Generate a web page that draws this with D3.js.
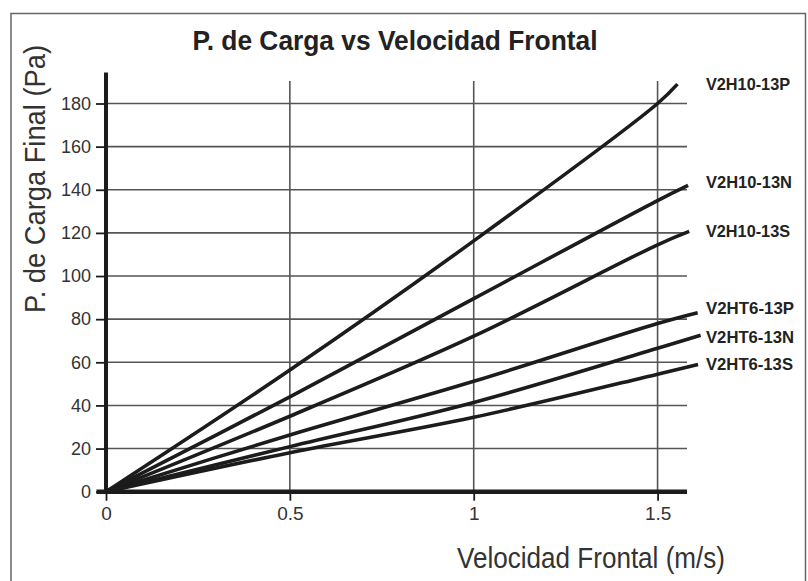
<!DOCTYPE html>
<html><head><meta charset="utf-8">
<script src="https://cdn.jsdelivr.net/npm/d3@7"></script>
<style>
html,body{margin:0;padding:0;background:#fff;}
svg{display:block;}
text{font-family:"Liberation Sans Narrow","Arial Narrow","Liberation Sans",Arial,sans-serif;}
</style></head>
<body>
<svg id="chart" width="808" height="581"></svg>
<script>
// ---- data ----
const xTicks = [0, 0.5, 1, 1.5];
const xTickLabels = ["0", "0.5", "1", "1.5"];
const yTicks = [0, 20, 40, 60, 80, 100, 120, 140, 160, 180];
const seriesNames = ["V2H10-13P", "V2H10-13N", "V2H10-13S", "V2HT6-13P", "V2HT6-13N", "V2HT6-13S"];
const velocity = {
  "V2H10-13P": [0, 0.5, 1, 1.5, 1.554],
  "V2H10-13N": [0, 0.5, 1, 1.5, 1.583],
  "V2H10-13S": [0, 0.5, 1, 1.5, 1.586],
  "V2HT6-13P": [0, 0.5, 1, 1.5, 1.609],
  "V2HT6-13N": [0, 0.5, 1, 1.5, 1.617],
  "V2HT6-13S": [0, 0.5, 1, 1.5, 1.610]
};
const pressure = {
  "V2H10-13P": [0, 56.4, 116.3, 180, 189.0],
  "V2H10-13N": [0, 44.0, 89.5, 135, 142],
  "V2H10-13S": [0, 35.0, 72.1, 114.5, 120.7],
  "V2HT6-13P": [0, 26.3, 51.2, 78, 83],
  "V2HT6-13N": [0, 20.9, 41.4, 66.5, 72.5],
  "V2HT6-13S": [0, 18.1, 34.5, 54.5, 59]
};
const labelBaselines = [90, 188, 237, 314, 342.5, 369.5];
const labelWidths = [84, 86, 84, 88, 88, 87];

// ---- layout ----
const svg = d3.select("#chart");
const x = d3.scaleLinear().domain([0, 1.58]).range([106, 687]);
const y = d3.scaleLinear().domain([0, 180]).range([491.7, 103.5]);
const gridColor = "#555";
const ink = "#1c1c1c";

// frame
svg.append("rect").attr("x", 11).attr("y", 13.5).attr("width", 794.5).attr("height", 600)
  .attr("fill", "none").attr("stroke", "#666").attr("stroke-width", 1.5);

// title
svg.append("text").attr("x", 192.5).attr("y", 50)
  .attr("textLength", 405).attr("lengthAdjust", "spacingAndGlyphs")
  .attr("font-size", 28).attr("font-weight", "bold").attr("fill", "#222")
  .text("P. de Carga vs Velocidad Frontal");

// horizontal gridlines
svg.append("g").selectAll("line").data(yTicks.filter(d => d > 0)).join("line")
  .attr("x1", x(0)).attr("x2", 687).attr("y1", d => y(d)).attr("y2", d => y(d))
  .attr("stroke", gridColor).attr("stroke-width", 1.6);
// vertical gridlines
svg.append("g").selectAll("line").data(xTicks.filter(d => d > 0)).join("line")
  .attr("x1", d => x(d)).attr("x2", d => x(d)).attr("y1", 81).attr("y2", y(0))
  .attr("stroke", gridColor).attr("stroke-width", 1.6);

// y axis
const yAxis = d3.axisLeft(y).tickValues(yTicks).tickSize(10).tickPadding(5);
const gy = svg.append("g").attr("transform", `translate(${x(0)},0)`).call(yAxis);
gy.select(".domain").remove();
gy.selectAll(".tick line").attr("stroke", ink).attr("stroke-width", 1.8);
gy.selectAll(".tick text").attr("font-size", 18).attr("fill", "#333")
  .attr("font-family", "'Liberation Sans Narrow','Liberation Sans',Arial,sans-serif");

// x axis
const xAxis = d3.axisBottom(x).tickValues(xTicks).tickFormat((d, i) => xTickLabels[i]).tickSize(9).tickPadding(6);
const gx = svg.append("g").attr("transform", `translate(0,${y(0)})`).call(xAxis);
gx.select(".domain").remove();
gx.selectAll(".tick line").attr("stroke", ink).attr("stroke-width", 1.8);
gx.selectAll(".tick text").attr("font-size", 19).attr("fill", "#333")
  .attr("font-family", "'Liberation Sans',Arial,sans-serif");

// axis lines (thick)
svg.append("line").attr("x1", x(0)).attr("x2", x(0)).attr("y1", 72.5).attr("y2", y(0) + 2)
  .attr("stroke", ink).attr("stroke-width", 4);
svg.append("line").attr("x1", 96.5).attr("x2", 687).attr("y1", y(0)).attr("y2", y(0))
  .attr("stroke", ink).attr("stroke-width", 4.5);

// series lines
const line = d3.line().x(d => x(d[0])).y(d => y(d[1])).curve(d3.curveCatmullRom.alpha(0.5));
seriesNames.forEach((name, i) => {
  const pts = velocity[name].map((v, j) => [v, pressure[name][j]]);
  svg.append("path").datum(pts).attr("d", line)
    .attr("fill", "none").attr("stroke", ink).attr("stroke-width", 3.6)
    .attr("stroke-linecap", "butt");
  svg.append("text").attr("x", 706).attr("y", labelBaselines[i])
    .attr("textLength", labelWidths[i]).attr("lengthAdjust", "spacingAndGlyphs")
    .attr("font-size", 17).attr("font-weight", "bold").attr("fill", "#222")
    .text(name);
});

// axis titles
svg.append("text").attr("x", 457).attr("y", 568)
  .attr("textLength", 268).attr("lengthAdjust", "spacingAndGlyphs")
  .attr("font-size", 29).attr("fill", "#333")
  .text("Velocidad Frontal (m/s)");
svg.append("text").attr("transform", "translate(45,313) rotate(-90)")
  .attr("textLength", 268).attr("lengthAdjust", "spacingAndGlyphs")
  .attr("font-size", 29).attr("fill", "#333")
  .text("P. de Carga Final (Pa)");
</script>
</body></html>
